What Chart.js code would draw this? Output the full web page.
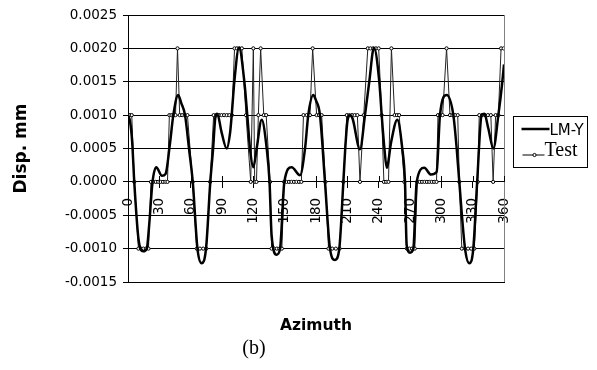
<!DOCTYPE html>
<html>
<head>
<meta charset="utf-8">
<title>Disp. mm vs Azimuth (b)</title>
<script src="https://cdn.jsdelivr.net/npm/chart.js@4/dist/chart.umd.min.js"></script>
<style>
  html, body { margin: 0; padding: 0; background: #fff; }
  #wrap { width: 597px; height: 370px; }
</style>
</head>
<body>
<div id="wrap"><canvas id="dispChart" width="597" height="370"></canvas></div>
<script>
// LM-Y model curve (azimuth in degrees, displacement in mm)
const lmAz = [0, 2, 4, 6, 10, 14.5, 18, 20, 23.5, 27, 32.5, 36, 40, 43.4, 48, 51, 54.6, 58.4, 62,
  66.5, 70.5, 74.7, 78.8, 81.5, 83.5, 85.5, 89.5, 94.5, 97.7, 99.3, 101.8, 106.3, 111.4, 114.2, 116.8, 120,
  123.2, 128, 132.8, 135.5, 137.5, 142.4, 145.6, 149.7, 156.7, 164.7, 169.5, 172.6, 177.4, 180, 183.8, 188.6,
  193.4, 198.2, 202.3, 206.2, 208, 210, 212.6, 215, 222.1, 226.9, 231, 235.5, 240.6, 242.9, 245.5, 247.7,
  252, 257.8, 262.6, 265.2, 266.8, 270, 273.2, 276.4, 283.7, 290.1, 295.5, 298.7, 305.1, 311.5, 314.7, 317.2,
  322.7, 326.8, 330.6, 334.3, 338.6, 341.2, 345, 349.8, 354.6, 358.4, 360];
const lmDisp = [0.001, 0.0009, 0.0006, 0, -0.00085, -0.00104, -0.001, -0.0007, 0, 0.00022, 0.00009, 0.00012, 0.00055, 0.001, 0.0013, 0.00118, 0.001, 0.0005, 0,
  -0.001, -0.00122, -0.001, 0, 0.0005, 0.00095, 0.00102, 0.00075, 0.0005, 0.00073, 0.001, 0.0015, 0.00201, 0.0015, 0.001, 0.0005, 0.00022,
  0.0005, 0.00093, 0.0005, 0, -0.0008, -0.00109, -0.001, 0, 0.00022, 0.0001, 0.0005, 0.001, 0.0013, 0.00122, 0.001, 0,
  -0.001, -0.00117, -0.001, 0, 0.0005, 0.0009, 0.001, 0.00095, 0.00049, 0.001, 0.0015, 0.00201, 0.0015, 0.001, 0.0005, 0.00021,
  0.0006, 0.00093, 0.0005, 0, -0.00095, -0.00106, -0.001, 0, 0.00021, 0.00011, 0.00015, 0.001, 0.0013, 0.001, 0.0005, 0,
  -0.001, -0.00122, -0.001, 0, 0.001, 0.00102, 0.0008, 0.0005, 0.001, 0.0015, 0.00176];

// Test readings
const testAz = [
  0, 1.9, 3.6,
  6,
  10, 12.4, 14.8, 17.2, 19.6,
  22, 24.3, 26.6, 28.9, 31.2, 33.5, 35.8, 37.8,
  39.6, 41.6, 43.6, 45.5,
  47.4,
  49.5, 51.9, 54.3, 56.9,
  61.9,
  65.8, 68.9, 72, 75,
  78.6,
  82, 84.5, 87, 89.5, 92, 94.5, 97, 99.5,
  102, 104.3, 106.6, 109,
  113,
  117.5,
  120,
  121.3, 123,
  124.8,
  127,
  130, 132.3,
  136,
  137.5, 140, 142.5, 145, 147.3,
  149.5, 151.8, 154.1, 156.5, 158.9, 161.3, 163.7, 166,
  168, 171.1, 174.2,
  176.8,
  180.6, 182.9, 185.4,
  189,
  192, 195.5, 199, 202.5,
  206.2,
  209.5, 212, 214.5, 217, 219.6,
  222.1,
  225.7,
  229.6, 232.2, 234.8, 237.4, 240,
  242.9,
  245, 247.2, 249.4,
  252.2,
  255.3, 257.5, 259.6,
  264.6,
  267, 269.5, 272, 274.6,
  277, 279.3, 281.6, 283.9, 286.2, 288.5, 290.8, 293.1, 295.4,
  296.8, 299, 301.2,
  305,
  308.3, 310.7, 313.2, 315.7,
  317.2,
  319.6, 322.6, 325.6, 328.6, 331.6,
  334.8,
  336.3, 339, 341.8, 344.6, 347.4,
  349.6,
  352, 354.6,
  357.2, 359.7
];
const testDisp = [
  0.001, 0.001, 0.001,
  0,
  -0.001, -0.001, -0.001, -0.001, -0.001,
  0, 0, 0, 0, 0, 0, 0, 0,
  0.001, 0.001, 0.001, 0.001,
  0.002,
  0.001, 0.001, 0.001, 0.001,
  0,
  -0.001, -0.001, -0.001, -0.001,
  0,
  0.001, 0.001, 0.001, 0.001, 0.001, 0.001, 0.001, 0.001,
  0.002, 0.002, 0.002, 0.002,
  0.001,
  0,
  0.002,
  0, 0,
  0.001,
  0.002,
  0.001, 0.001,
  0,
  -0.001, -0.001, -0.001, -0.001, -0.001,
  0, 0, 0, 0, 0, 0, 0, 0,
  0.001, 0.001, 0.001,
  0.002,
  0.001, 0.001, 0.001,
  0,
  -0.001, -0.001, -0.001, -0.001,
  0,
  0.001, 0.001, 0.001, 0.001, 0.001,
  0,
  0.001,
  0.002, 0.002, 0.002, 0.002, 0.002,
  0.001,
  0, 0, 0,
  0.002,
  0.001, 0.001, 0.001,
  0,
  -0.001, -0.001, -0.001, -0.001,
  0, 0, 0, 0, 0, 0, 0, 0, 0,
  0.001, 0.001, 0.001,
  0.002,
  0.001, 0.001, 0.001, 0.001,
  0,
  -0.001, -0.001, -0.001, -0.001, -0.001,
  0,
  0.001, 0.001, 0.001, 0.001, 0.001,
  0,
  0.001, 0.001,
  0.002, 0.002
];

const seriesNames = ["LM-Y", "Test"];

const sansFont = "'DejaVu Sans', sans-serif";
const serifFont = "'Liberation Serif', 'Times New Roman', serif";

// legend in a box on the right, plus the plot frame bits Chart.js can't do
const framePlugin = {
  id: "framePlugin",
  afterDraw(chart) {
    const { ctx, chartArea, scales } = chart;
    ctx.save();

    // right edge of the plot area
    ctx.strokeStyle = "#808080";
    ctx.lineWidth = 1;
    const rx = Math.round(chartArea.right) + 0.5;
    ctx.beginPath();
    ctx.moveTo(rx, chartArea.top);
    ctx.lineTo(rx, chartArea.bottom);
    ctx.stroke();

    // cross tick marks: upper half above the zero line
    const zeroY = Math.round(scales.y.getPixelForValue(0));
    ctx.strokeStyle = "#000";
    scales.x2.ticks.forEach((t) => {
      const px = Math.round(scales.x2.getPixelForValue(t.value)) + 0.5;
      ctx.beginPath();
      ctx.moveTo(px, zeroY - 6);
      ctx.lineTo(px, zeroY);
      ctx.stroke();
    });

    // legend box
    const x0 = Math.round(chartArea.right + 9) + 0.5;
    const y0 = Math.round((chartArea.top + chartArea.bottom) / 2 - 33) + 0.5;
    ctx.strokeStyle = "#000";
    ctx.lineWidth = 1;
    ctx.strokeRect(x0, y0, 74, 51);

    ctx.lineWidth = 2.5;
    ctx.beginPath();
    ctx.moveTo(x0 + 8, y0 + 12.5);
    ctx.lineTo(x0 + 36, y0 + 12.5);
    ctx.stroke();
    ctx.fillStyle = "#000";
    ctx.font = "15px " + sansFont;
    ctx.textBaseline = "alphabetic";
    ctx.textAlign = "left";
    ctx.fillText(seriesNames[0], x0 + 36, y0 + 18);

    ctx.lineWidth = 1;
    ctx.beginPath();
    ctx.moveTo(x0 + 9, y0 + 38.5);
    ctx.lineTo(x0 + 31, y0 + 38.5);
    ctx.stroke();
    ctx.beginPath();
    ctx.arc(x0 + 21, y0 + 38.5, 1.6, 0, Math.PI * 2);
    ctx.fillStyle = "#fff";
    ctx.fill();
    ctx.stroke();
    ctx.fillStyle = "#000";
    ctx.font = "20px " + serifFont;
    ctx.fillText(seriesNames[1], x0 + 31, y0 + 39.5);

    ctx.restore();
  },
};

const ctx = document.getElementById("dispChart").getContext("2d");
Chart.defaults.color = "#000";
Chart.defaults.font.family = sansFont;

new Chart(ctx, {
  type: "line",
  data: {
    datasets: [
      {
        label: seriesNames[0],
        data: lmAz.map((a, i) => ({ x: a, y: lmDisp[i] })),
        borderColor: "#000",
        borderWidth: 2.5,
        pointRadius: 0,
        cubicInterpolationMode: "monotone",
        xAxisID: "x",
        yAxisID: "y",
      },
      {
        label: seriesNames[1],
        data: testAz.map((a, i) => ({ x: a, y: testDisp[i] })),
        borderColor: "#222",
        borderWidth: 1,
        pointRadius: 1.6,
        pointBorderWidth: 1,
        pointBorderColor: "#000",
        pointBackgroundColor: "#fff",
        tension: 0,
        xAxisID: "x",
        yAxisID: "y",
      },
    ],
  },
  options: {
    responsive: false,
    animation: false,
    layout: { padding: { left: 4, top: 15, right: 93, bottom: 0 } },
    plugins: {
      legend: { display: false },
      tooltip: { enabled: false },
      subtitle: {
        display: true,
        position: "bottom",
        text: "(b)",
        color: "#000",
        font: { family: serifFont, size: 20, weight: "normal" },
        padding: { top: 0, bottom: 9 },
      },
    },
    scales: {
      x: {
        type: "linear",
        position: "bottom",
        min: 0,
        max: 360,
        ticks: { display: false },
        grid: { display: false, drawTicks: false },
        border: { display: true, color: "#000", width: 1 },
        title: {
          display: true,
          text: "Azimuth",
          font: { size: 15.5, weight: "bold" },
          padding: { top: 0, bottom: 2 },
        },
        afterFit: (scale) => { scale.height = 55; },
      },
      x2: {
        type: "linear",
        position: { y: 0 },
        min: 0,
        max: 360,
        ticks: {
          stepSize: 30,
          autoSkip: false,
          maxRotation: 90,
          minRotation: 90,
          padding: 10,
          font: { size: 13.5 },
        },
        grid: { drawOnChartArea: false, drawTicks: true, tickLength: 6, color: "#000" },
        border: { display: false },
      },
      y: {
        type: "linear",
        min: -0.0015,
        max: 0.0025,
        ticks: {
          stepSize: 0.0005,
          padding: 6,
          font: { size: 13.5 },
          callback: (v) => (Math.abs(v) < 1e-12 ? 0 : v).toFixed(4),
        },
        grid: { color: "#000", lineWidth: 1, tickLength: 5 },
        border: { color: "#000", width: 1 },
        title: {
          display: true,
          text: "Disp. mm",
          font: { size: 17, weight: "bold" },
          padding: { top: 7, bottom: 0 },
        },
        afterFit: (scale) => { scale.width = 124; },
      },
    },
  },
  plugins: [framePlugin],
});
</script>
</body>
</html>
